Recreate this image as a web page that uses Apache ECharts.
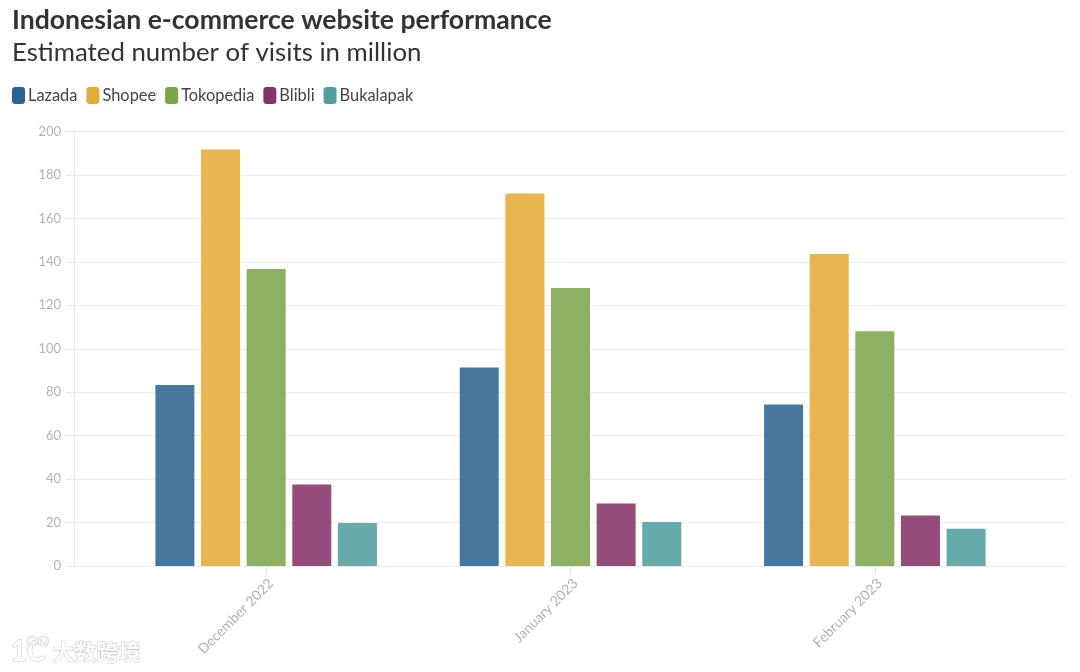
<!DOCTYPE html>
<html><head><meta charset="utf-8">
<style>html,body{margin:0;padding:0;background:#fff}#c{width:1080px;height:672px}</style>
<script src="https://cdn.jsdelivr.net/npm/echarts@6/dist/echarts.min.js"></script></head>
<body><div id="c"></div>
<script>
const categories=['December 2022','January 2023','February 2023'];
const lazada=[83.3,91.4,74.3];
const shopee=[191.7,171.5,143.6];
const tokopedia=[136.7,128,108];
const blibli=[37.5,28.8,23.2];
const bukalapak=[19.8,20.2,17.2];
const names=['Lazada','Shopee','Tokopedia','Blibli','Bukalapak'];
const values=[lazada,shopee,tokopedia,blibli,bukalapak];
const colors=['#2c6491','#e5ab38','#7ba64b','#853469','#519e9f'];
const font='Lato';
const chart=echarts.init(document.getElementById('c'),null,{renderer:'canvas'});
const wm={fill:'#fff',stroke:'#c4c4c4',lineWidth:0.9,shadowBlur:3,shadowColor:'rgba(0,0,0,0.35)'};
const hiddenY={type:'value',min:0,max:200,interval:20,axisLine:{show:false},axisTick:{show:false},axisLabel:{show:false},splitLine:{show:false}};
chart.setOption({
 animation:false,
 backgroundColor:'#fff',
 textStyle:{fontFamily:font},
 title:[
  {text:'Indonesian e-commerce website performance',left:12,top:7,padding:0,textStyle:{fontFamily:font,fontWeight:700,fontSize:26.6,color:'#333'}},
  {text:'Estimated number of visits in million',left:12,top:40,padding:0,textStyle:{fontFamily:font,fontWeight:400,fontSize:25.8,color:'#333'}}
 ],
 legend:{left:12,top:87,padding:0,itemWidth:13,itemHeight:17,itemGap:9,icon:'roundRect',
  textStyle:{fontFamily:font,fontSize:16.4,color:'#444',padding:[0,0,0,-2]},
  itemStyle:{opacity:1},data:names},
 grid:[
  {left:74,right:14,top:131.5,bottom:106},
  {left:114,right:53,top:131.5,bottom:106},
  {left:119,right:48,top:131.5,bottom:106}
 ],
 xAxis:[
  {gridIndex:0,type:'value',min:0,max:1,axisLine:{show:false},axisTick:{show:false},axisLabel:{show:false},splitLine:{show:false}},
  {gridIndex:1,type:'category',data:categories,
   axisLine:{show:true,lineStyle:{color:'#ececec'}},
   axisTick:{show:true,alignWithLabel:true,length:8,lineStyle:{color:'#e2e2e2'}},
   axisLabel:{show:false}},
  {gridIndex:2,type:'category',data:categories,
   axisLine:{show:false},axisTick:{show:false},
   axisLabel:{rotate:45,fontFamily:font,fontSize:14,color:'#b3b3b3',margin:15,interval:0}}
 ],
 yAxis:[
  {gridIndex:0,type:'value',min:0,max:200,interval:20,
   axisLine:{show:true,lineStyle:{color:'#e8e8e8'}},
   axisTick:{show:true,length:8,lineStyle:{color:'#e8e8e8'}},
   axisLabel:{fontFamily:font,fontSize:13,color:'#b3b3b3',margin:13},
   splitLine:{show:true,lineStyle:{color:'#ececec'}}},
  Object.assign({gridIndex:1},hiddenY),
  Object.assign({gridIndex:2},hiddenY)
 ],
 series:names.map((n,i)=>({name:n,type:'bar',xAxisIndex:1,yAxisIndex:1,data:values[i],barWidth:39,barGap:'17%',
   itemStyle:{color:colors[i],opacity:0.88}})),
 graphic:[
  {type:'text',left:52,top:640,style:Object.assign({text:'大数跨境',font:'700 22px "Noto Sans CJK SC"'},wm)},
  {type:'text',left:10,top:638,style:Object.assign({text:'1C',font:'700 28px Lato'},wm)},
  {type:'text',left:26,top:634,style:Object.assign({text:'OO',font:'400 14px Lato'},wm)}
 ]
});
</script></body></html>
